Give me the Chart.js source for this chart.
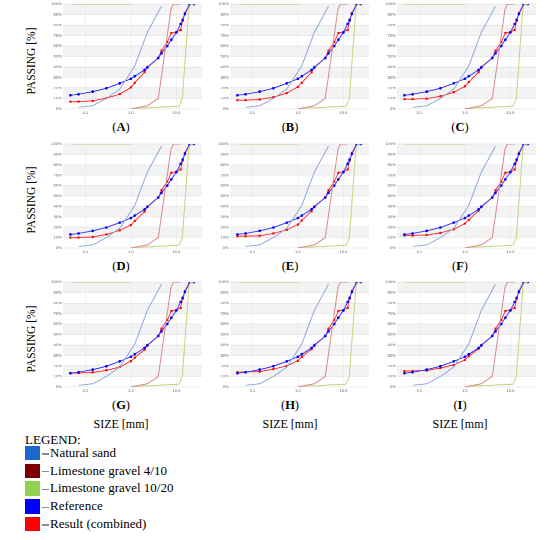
<!DOCTYPE html>
<html>
<head>
<meta charset="utf-8">
<script src="https://cdn.jsdelivr.net/npm/chart.js@4.4.1/dist/chart.umd.min.js"></script>
<style>
  body { margin: 0; background: #fff; width: 550px; height: 540px; position: relative; overflow: hidden; font-family: "Liberation Serif", serif; color: #000; }
  canvas { position: absolute; }
  .txt { position: absolute; white-space: nowrap; transform: translate(-50%, -50%); }
  .ylab { position: absolute; white-space: nowrap; transform: translate(-50%, -50%) rotate(-90deg); font-size: 11.5px; }
  .letter { font-size: 12.5px; }
  .size { font-size: 12px; }
  .legend { position: absolute; left: 25px; font-size: 13px; }
  .sq { position: absolute; left: 25px; width: 14.5px; height: 14.5px; }
  .item { position: absolute; left: 41.5px; font-size: 13px; transform: translateY(-50%); white-space: nowrap; }
  .dash { display: inline-block; width: 7.5px; height: 1.3px; background: #8c8c8c; vertical-align: middle; margin-right: 1px; }
</style>
</head>
<body>
<script>
// sieve sizes [mm]
const sieveSizes = [0.047, 0.071, 0.145, 0.29, 0.57, 1.0, 1.22, 2.0, 2.3, 4.0, 4.7, 6.3, 7.75, 10, 12.4, 13.7, 15.4, 19.5, 24];
const referencePassing = [13, 14, 16.5, 19.7, 24.4, 28.8, 31.2, 37.2, 39.5, 48.6, 53, 60, 66, 73, 81, 85, 90.5, 99.5, 100];

// result curves: fine part differs per panel, coarse part the same
const resultFine = {
    A: [7, 7, 7.7, 10.3, 14, 20.5, 25, 35, 40],
    B: [8.3, 8.3, 9, 11.2, 15, 21, 25, 35, 40],
    C: [9.3, 9.3, 9.8, 12, 15.8, 21.5, 25.5, 35, 40],
    D: [10, 10, 10.6, 13, 17, 22, 26, 35, 40],
    E: [11.3, 11.3, 11.8, 14, 17.5, 22.5, 26.5, 35.5, 40],
    F: [12, 12, 12.5, 14.5, 18, 23.5, 27, 36, 40],
    G: [13.2, 13.2, 13.8, 15.8, 19, 24.4, 28, 35.4, 40],
    H: [14.2, 14.2, 14.6, 17, 20, 25, 28.6, 36, 40],
    I: [15.2, 15.2, 15.6, 18, 21, 25.7, 29.3, 36.3, 40]
};
const resultCoarse = [48.5, 55.5, 63.8, 72.3, 73.3, 75.5, 84, 91.5, 100, 100];

const sandSizes = [0.071, 0.145, 0.29, 0.57, 1.22, 2.3, 4.7];
const sandPassing = [1.5, 3, 10, 19, 41, 73, 98];
const gravel410Sizes = [1.0, 2.3, 4.0, 7.6, 8.6, 12.5];
const gravel410Passing = [0, 3, 10, 95, 100, 100];
const gravel1020Sizes = [1.0, 11.4, 13.5, 18.8, 20.5, 24.3];
const gravel1020Passing = [0.3, 2.6, 10, 96, 100, 100];
const gravelTopSizes = [0.05, 1.0];
const gravelTopPassing = [100, 100];

const panelNames = ["A", "B", "C", "D", "E", "F", "G", "H", "I"];
const xTicks = [0.1, 1, 10];
const yTicks = [0, 10, 20, 30, 40, 50, 60, 70, 80, 90, 100];

function pts(xs, ys) {
    return xs.map((x, i) => ({x: x, y: ys[i]}));
}

const bandPlugin = {
    id: 'bands',
    beforeDraw(chart) {
        const a = chart.chartArea;
        const y = chart.scales.y;
        const c = chart.ctx;
        c.save();
        c.fillStyle = '#f3f3f3';
        for (let v = 10; v < 100; v += 20) {
            const top = y.getPixelForValue(v + 10);
            const bot = y.getPixelForValue(v);
            c.fillRect(a.left, top, a.right - a.left, bot - top);
        }
        c.restore();
    }
};

const colLeft = [63.3, 230, 396.7];
const rowTop = [4.3, 143.6, 282.3];
const plotW = 140, plotH = 104.3;
const padL = 16, padT = 4, padR = 3, padB = 10;

panelNames.forEach((name, k) => {
    const col = k % 3, row = Math.floor(k / 3);
    const cv = document.createElement('canvas');
    const w = padL + plotW + padR, h = padT + plotH + padB;
    cv.width = w; cv.height = h;
    cv.style.width = w + 'px'; cv.style.height = h + 'px';
    cv.style.left = (colLeft[col] - padL) + 'px';
    cv.style.top = (rowTop[row] - padT) + 'px';
    document.body.appendChild(cv);

    const result = resultFine[name].concat(resultCoarse);
    new Chart(cv.getContext('2d'), {
        type: 'line',
        data: {
            datasets: [
                {data: pts(gravelTopSizes, gravelTopPassing), borderColor: '#a9d18e', borderWidth: 1, pointRadius: 0},
                {data: pts(sandSizes, sandPassing), borderColor: '#8eaadb', borderWidth: 1, pointRadius: 0},
                {data: pts(gravel410Sizes, gravel410Passing), borderColor: '#d98a8a', borderWidth: 1, pointRadius: 0},
                {data: pts(gravel1020Sizes, gravel1020Passing), borderColor: '#c3d57a', borderWidth: 1, pointRadius: 0},
                {data: pts(sieveSizes, referencePassing), borderColor: '#4040ff', backgroundColor: '#0000ff', borderWidth: 1,
                    pointStyle: 'circle', pointRadius: 1.3, pointBorderWidth: 0},
                {data: pts(sieveSizes, result), borderColor: '#ff3b3b', backgroundColor: '#ff0000', borderWidth: 1,
                    pointStyle: 'rect', pointRadius: 1.5, pointBorderWidth: 0}
            ]
        },
        options: {
            responsive: false,
            animation: false,
            devicePixelRatio: 2,
            layout: {padding: {top: padT, right: padR, left: 0, bottom: 0}},
            plugins: {legend: {display: false}, tooltip: {enabled: false}},
            elements: {line: {tension: 0}},
            scales: {
                x: {
                    type: 'logarithmic',
                    min: 0.0323,
                    max: 36.5,
                    afterBuildTicks: (s) => { s.ticks = xTicks.map(v => ({value: v})); },
                    afterFit: (s) => { s.height = padB; },
                    ticks: {
                        font: {size: 4, family: 'Liberation Sans'},
                        color: '#595959',
                        padding: 1.5,
                        maxRotation: 0,
                        autoSkip: false,
                        callback: (v) => v < 1 ? String(v) : v.toFixed(1)
                    },
                    grid: {color: '#e6e6e6', lineWidth: 0.5, drawTicks: false},
                    border: {display: false}
                },
                y: {
                    min: 0,
                    max: 100,
                    afterBuildTicks: (s) => { s.ticks = yTicks.map(v => ({value: v})); },
                    afterFit: (s) => { s.width = padL; },
                    ticks: {
                        font: {size: 4, family: 'Liberation Sans'},
                        color: '#595959',
                        padding: 1.5,
                        callback: (v) => v + '%'
                    },
                    grid: {color: '#dcdcdc', lineWidth: 0.5, drawTicks: false},
                    border: {display: false}
                }
            }
        },
        plugins: [bandPlugin]
    });
});

function addText(cls, text, x, y, html) {
    const d = document.createElement('div');
    d.className = cls;
    if (html) d.innerHTML = text; else d.textContent = text;
    d.style.left = x + 'px';
    d.style.top = y + 'px';
    document.body.appendChild(d);
    return d;
}

const letterX = [121, 290, 460];
const letterY = [127, 266, 405];
panelNames.forEach((name, k) => {
    addText('txt letter', '(<b>' + name + '</b>)', letterX[k % 3], letterY[Math.floor(k / 3)], true);
});
[57, 196, 335].forEach(y => addText('ylab', 'PASSING [%]', 31, y + 4));
letterX.forEach(x => addText('txt size', 'SIZE [mm]', x, 424));

const legendLabels = ["Natural sand", "Limestone gravel 4/10", "Limestone gravel 10/20", "Reference", "Result (combined)"];
const legendColors = ["#1b69cf", "#7b0000", "#92d050", "#0000ff", "#ff0000"];
const legendY = [453, 470.7, 488.4, 506.2, 524];

addText('legend', 'LEGEND:', 25, 432);
legendLabels.forEach((label, i) => {
    const sq = document.createElement('div');
    sq.className = 'sq';
    sq.style.top = (legendY[i] - 7.2) + 'px';
    sq.style.background = legendColors[i];
    document.body.appendChild(sq);
    addText('item', '<span class="dash"></span>' + label, 41.5, legendY[i], true);
});
</script>
</body>
</html>
